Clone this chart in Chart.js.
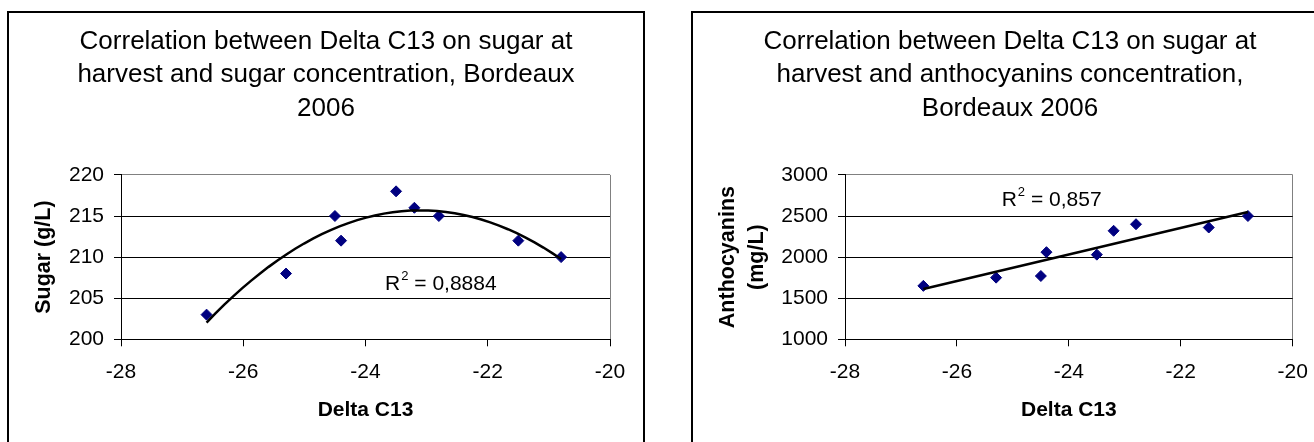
<!DOCTYPE html>
<html>
<head>
<meta charset="utf-8">
<script src="https://cdn.jsdelivr.net/npm/chart.js@4.4.1/dist/chart.umd.min.js"></script>
<style>
  html, body { margin: 0; padding: 0; background: #fff; }
  body { width: 1314px; height: 442px; overflow: hidden; position: relative; }
  .box { position: absolute; top: 11px; width: 634px; height: 440px; border: 2px solid #000; background: #fff; }
  #boxSugar { left: 7px; }
  #boxAntho { left: 691px; }
  canvas { display: block; }
</style>
</head>
<body>
<div class="box" id="boxSugar"><canvas id="sugarChart" width="634" height="438"></canvas></div>
<div class="box" id="boxAntho"><canvas id="anthoChart" width="634" height="438"></canvas></div>
<script>
// ─── Data ────────────────────────────────────────────────────────────────────
const deltaC13     = [-26.6, -25.3, -24.5, -24.4, -23.5, -23.2, -22.8, -21.5, -20.8];
const sugar        = [203, 208, 215, 212, 218, 216, 215, 212, 210];
const anthocyanins = [1650, 1750, 1770, 2060, 2030, 2320, 2400, 2360, 2500];

const xTicks     = [-28, -26, -24, -22, -20];
const sugarTicks = [200, 205, 210, 215, 220];
const anthoTicks = [1000, 1500, 2000, 2500, 3000];

const sugarTitle = ['Correlation between Delta C13 on sugar at',
                    'harvest and sugar concentration, Bordeaux', '2006'];
const anthoTitle = ['Correlation between Delta C13 on sugar at',
                    'harvest and anthocyanins concentration,', 'Bordeaux 2006'];

const FONT = '"Liberation Sans", Arial, sans-serif';
const NAVY = '#000080';

Chart.defaults.font.family = FONT;
Chart.defaults.color = '#000';

// ─── Least squares polynomial trendline (like Excel's) ──────────────────────
function polyFit(xs, ys, degree) {
  const n = degree + 1;
  const A = Array.from({ length: n }, () => new Array(n + 1).fill(0));
  xs.forEach((x, k) => {
    for (let i = 0; i < n; i++) {
      for (let j = 0; j < n; j++) A[i][j] += Math.pow(x, i + j);
      A[i][n] += Math.pow(x, i) * ys[k];
    }
  });
  for (let i = 0; i < n; i++) {
    let p = i;
    for (let r = i + 1; r < n; r++) if (Math.abs(A[r][i]) > Math.abs(A[p][i])) p = r;
    [A[i], A[p]] = [A[p], A[i]];
    for (let r = 0; r < n; r++) {
      if (r === i) continue;
      const f = A[r][i] / A[i][i];
      for (let c = i; c <= n; c++) A[r][c] -= f * A[i][c];
    }
  }
  return A.map((row, i) => row[n] / row[i]);
}
const evalPoly = (coef, x) => coef.reduce((s, c, i) => s + c * Math.pow(x, i), 0);

// fitted curve traced across the data's x range
function trendPoints(xs, ys, degree) {
  const coef = polyFit(xs, ys, degree);
  const lo = Math.min(...xs), hi = Math.max(...xs);
  const steps = degree > 1 ? 40 : 1;
  const pts = [];
  for (let i = 0; i <= steps; i++) {
    const x = lo + (hi - lo) * i / steps;
    pts.push({ x, y: evalPoly(coef, x) });
  }
  return pts;
}

// ─── R² label drawn in data coordinates ─────────────────────────────────────
const r2Label = {
  id: 'r2Label',
  afterDatasetsDraw(chart, args, opts) {
    const { ctx, scales: { x, y } } = chart;
    let px = x.getPixelForValue(opts.x);
    const py = y.getPixelForValue(opts.y);
    ctx.save();
    ctx.fillStyle = '#000';
    ctx.textAlign = 'left';
    ctx.textBaseline = 'alphabetic';
    ctx.font = '21px ' + FONT;
    ctx.fillText('R', px, py);
    px += ctx.measureText('R').width + 1;
    ctx.font = '13px ' + FONT;
    ctx.fillText('2', px, py - 10);
    px += ctx.measureText('2').width;
    ctx.font = '21px ' + FONT;
    ctx.fillText(' = ' + opts.value, px, py);
    ctx.restore();
  }
};

function makeChart(id, cfg) {
  const xMax = xTicks[xTicks.length - 1];
  const yMax = cfg.yTicks[cfg.yTicks.length - 1];
  return new Chart(document.getElementById(id), {
    type: 'scatter',
    data: {
      datasets: [
        {
          type: 'line',
          label: 'trend',
          data: trendPoints(deltaC13, cfg.values, cfg.degree),
          borderColor: '#000',
          borderWidth: 2.5,
          pointRadius: 0,
          tension: 0,
          fill: false,
          order: 0
        },
        {
          label: cfg.yLabel,
          data: deltaC13.map((x, i) => ({ x, y: cfg.values[i] })),
          pointStyle: 'rectRot',
          pointRadius: 5.5,
          borderWidth: 1,
          backgroundColor: NAVY,
          borderColor: NAVY,
          order: 1
        }
      ]
    },
    options: {
      responsive: false,
      animation: false,
      devicePixelRatio: 1,
      events: [],
      layout: { padding: 0 },
      plugins: {
        legend: { display: false },
        tooltip: { enabled: false },
        title: {
          display: true,
          text: cfg.title,
          color: '#000',
          font: { family: FONT, size: 26, weight: 'normal', lineHeight: 1.3 },
          padding: { top: 11.5, bottom: 49 }
        },
        r2Label: cfg.r2
      },
      scales: {
        x: {
          type: 'linear',
          min: xTicks[0],
          max: xMax,
          afterBuildTicks: s => { s.ticks = xTicks.map(v => ({ value: v })); },
          afterFit: s => { s.height = 111.7; },
          grid: {
            drawOnChartArea: true,
            color: c => (c.tick && c.tick.value === xMax) ? '#808080' : 'rgba(0,0,0,0)',
            tickColor: '#000',
            tickLength: 7
          },
          border: { color: '#000', width: 1 },
          ticks: { color: '#000', font: { size: 21 }, padding: 13, callback: v => String(v) },
          title: {
            display: true,
            text: 'Delta C13',
            color: '#000',
            font: { size: 21, weight: 'bold', lineHeight: 1.2 },
            padding: { top: 0, bottom: 27.9 }
          }
        },
        y: {
          type: 'linear',
          min: cfg.yTicks[0],
          max: yMax,
          afterBuildTicks: s => { s.ticks = cfg.yTicks.map(v => ({ value: v })); },
          afterFit: s => { s.width = cfg.yWidth; },
          grid: {
            color: c => (c.tick && c.tick.value === yMax) ? '#808080' : '#000',
            tickColor: '#000',
            tickLength: 7
          },
          border: { color: '#000', width: 1 },
          ticks: { color: '#000', font: { size: 21 }, padding: 10, callback: v => String(v) },
          title: {
            display: true,
            text: cfg.yLabel,
            color: '#000',
            font: { size: 21.5, weight: 'bold', lineHeight: 1.36 },
            padding: { top: 20.4, bottom: 0 }
          }
        },
        // empty right-hand gutter so the title stays centred on the whole box
        gutter: {
          type: 'linear',
          position: 'right',
          min: 0,
          max: 1,
          afterFit: s => { s.width = cfg.padRight; },
          grid: { display: false },
          border: { display: false },
          ticks: { display: false }
        }
      }
    },
    plugins: [r2Label]
  });
}

makeChart('sugarChart', {
  title: sugarTitle,
  values: sugar,
  degree: 2,
  yTicks: sugarTicks,
  yLabel: 'Sugar (g/L)',
  yWidth: 112,
  padRight: 33,
  r2: { value: '0,8884', x: -23.68, y: 206.0 }
});

makeChart('anthoChart', {
  title: anthoTitle,
  values: anthocyanins,
  degree: 1,
  yTicks: anthoTicks,
  yLabel: ['Anthocyanins', '(mg/L)'],
  yWidth: 152,
  padRight: 34.3,
  r2: { value: '0,857', x: -25.2, y: 2617 }
});
</script>
</body>
</html>
